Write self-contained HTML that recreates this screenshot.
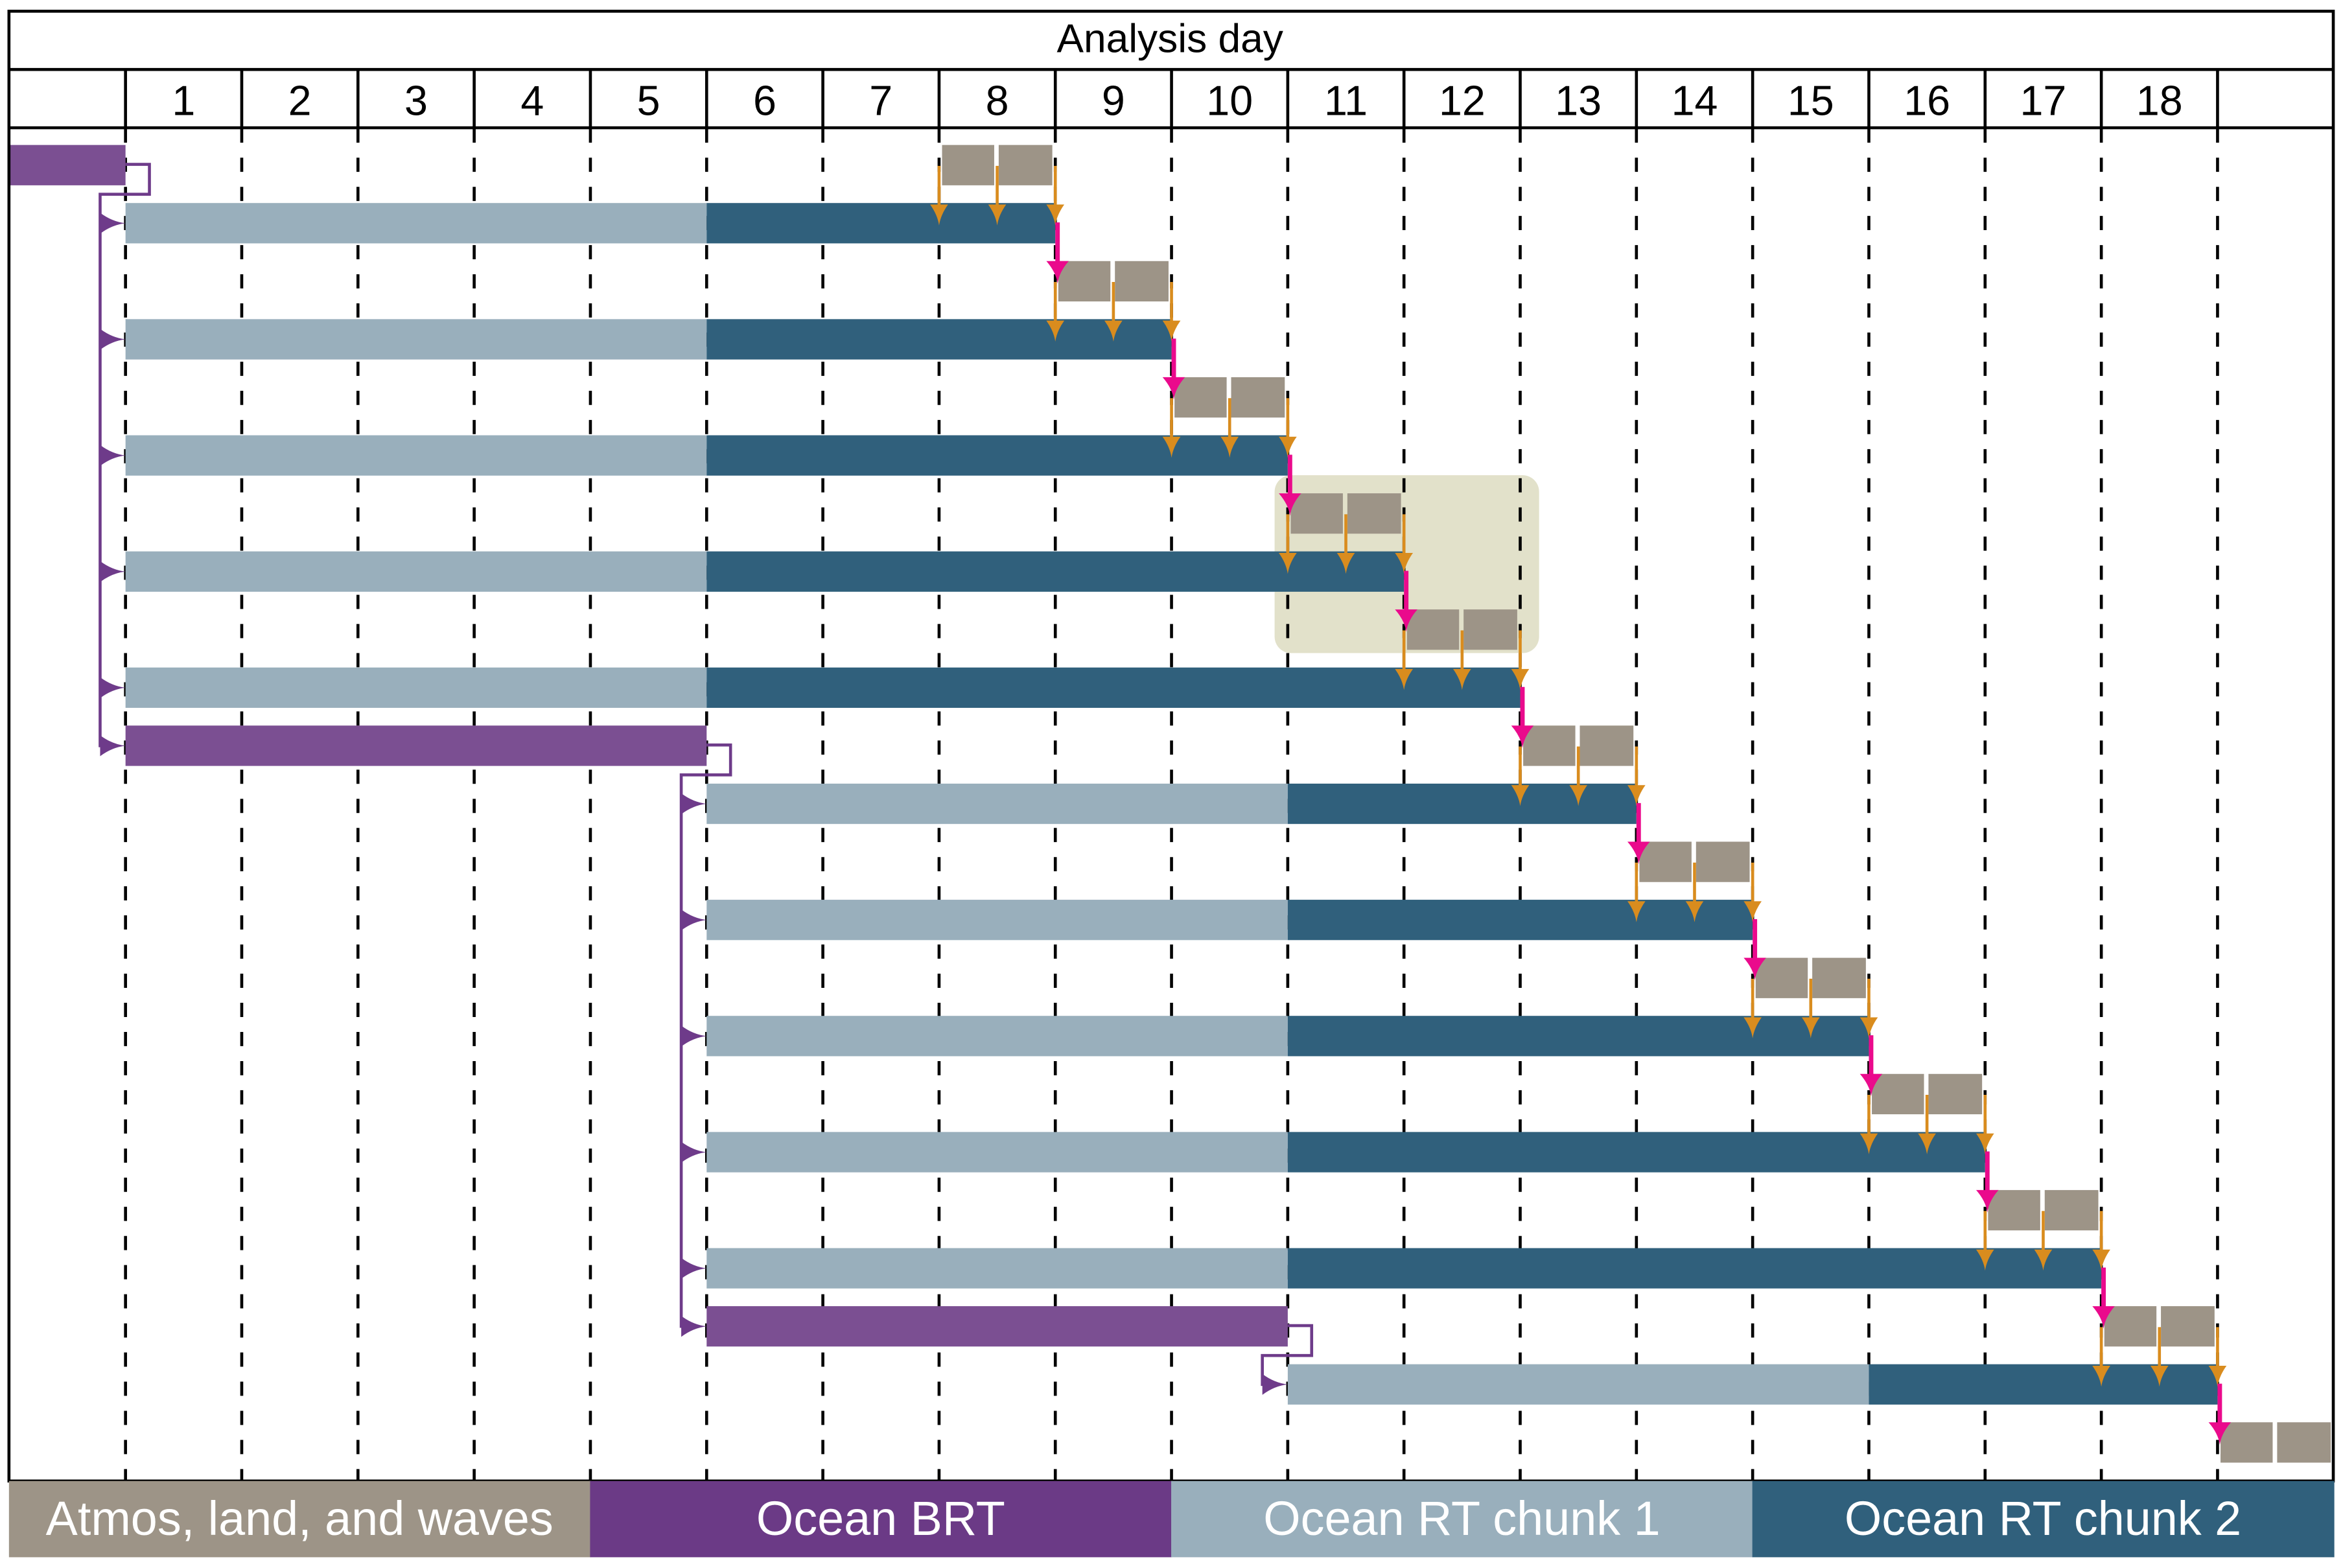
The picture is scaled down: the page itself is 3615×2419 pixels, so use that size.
<!DOCTYPE html>
<html><head><meta charset="utf-8"><style>
html,body{margin:0;padding:0;background:#fff;}
svg{display:block;}
text{font-family:"Liberation Sans",sans-serif;}
</style></head><body>
<svg id="chart" width="3615" height="2419" viewBox="0 0 1568 1049.2" preserveAspectRatio="none" xmlns="http://www.w3.org/2000/svg">
<g id="bg"></g>
<g id="grid"></g>
<g id="marks"></g>
<g id="header"></g>
<g id="legend"></g>
</svg>
<script>
// ---- data ----
const dayLabels = [1,2,3,4,5,6,7,8,9,10,11,12,13,14,15,16,17,18];
const purpleRows = [0,10,20];
const purpleStart = [-1,0,5];
const purpleEnd = [0,5,10];
const forecastRows = [1,3,5,7,9,11,13,15,17,19,21];
const forecastStart = [0,0,0,0,0,5,5,5,5,5,10];
const forecastSplit = [5,5,5,5,5,10,10,10,10,10,15];
const forecastEnd = [8,9,10,11,12,13,14,15,16,17,18];
const greyRows = [0,2,4,6,8,10,12,14,16,18,20,22];
const greyStart = [7,8,9,10,11,12,13,14,15,16,17,18];
const legendLabels = ["Atmos, land, and waves","Ocean BRT","Ocean RT chunk 1","Ocean RT chunk 2"];

// ---- scales ----
const X0 = 84, DW = 77.78;
const xs = d => d === -1 ? 6 : X0 + DW * d;
const Y0 = 97, RP = 38.85, BH = 27;
const ys = r => Y0 + RP * r;
const NS = "http://www.w3.org/2000/svg";
function mk(parent, tag, attrs){ const e=document.createElementNS(NS,tag); for(const k in attrs) e.setAttribute(k,attrs[k]); document.getElementById(parent).appendChild(e); return e; }

const C = {purple:"#7b4f92", pline:"#6e3b8a", light:"#99afbc", dark:"#30607c", grey:"#9d9487", orange:"#d98c1e", mag:"#ea0a8c", hl:"#e2e1ca"};

let el = mk("bg","rect",{x:853,y:318,width:177,height:119,rx:11,fill:C.hl});



for(let k=0;k<=18;k++){
  el = mk("grid","line",{x1:xs(k),x2:xs(k),y1:86,y2:991,stroke:"#000","stroke-width":2,"stroke-dasharray":"9.5 10"});
  
  
}

function arrowDown(x,y1,y2,color,w,hw,hl,name){
  el = mk("marks","line",{x1:x,x2:x,y1:y1,y2:y2-hl+2,stroke:color,"stroke-width":w});
  
  
  el = mk("marks","path",{d:`M${x-hw/2},${y2-hl} L${x+hw/2},${y2-hl} Q${x+1},${y2-hl/2} ${x},${y2} Q${x-1},${y2-hl/2} ${x-hw/2},${y2-hl} Z`,fill:color});
  
  
}
function arrowRight(x1,x2,y,name){
  el = mk("marks","path",{d:`M${x1},${y-7} Q${x1+8},${y-1} ${x2},${y} Q${x1+8},${y+1} ${x1},${y+7} Z`,fill:C.pline});
  
  
}

purpleRows.forEach((r,i)=>{
  el = mk("marks","rect",{x:xs(purpleStart[i]),y:ys(r),width:xs(purpleEnd[i])-xs(purpleStart[i]),height:BH,fill:C.purple});
  
  
});
for(let i=0;i<purpleRows.length;i++){
  const r=purpleRows[i], xe=xs(purpleEnd[i]);
  const ym=ys(r)+13, yb=ys(r)+33, xv=xe-17;
  const targets=[];
  forecastRows.forEach((fr,j)=>{ if(forecastStart[j]===purpleEnd[i]) targets.push(fr); });
  purpleRows.forEach((pr,j)=>{ if(purpleStart[j]===purpleEnd[i]) targets.push(pr); });
  if(!targets.length) continue;
  const ylast = ys(Math.max(...targets))+BH/2+1;
  el = mk("marks","path",{d:`M${xe},${ym} H${xe+16} V${yb} H${xv} V${ylast}`,fill:"none",stroke:C.pline,"stroke-width":2});
  
  
  targets.forEach(t=>arrowRight(xv,xe,ys(t)+BH/2,'restart-arrow'));
}

forecastRows.forEach((r,i)=>{
  el = mk("marks","rect",{x:xs(forecastStart[i]),y:ys(r),width:xs(forecastSplit[i])-xs(forecastStart[i]),height:BH,fill:C.light});
  
  
  el = mk("marks","rect",{x:xs(forecastSplit[i]),y:ys(r),width:xs(forecastEnd[i])-xs(forecastSplit[i]),height:BH,fill:C.dark});
  
  
});

greyRows.forEach((r,i)=>{
  const x=xs(greyStart[i]);
  el = mk("marks","rect",{x:x+2,y:ys(r),width:DW/2-4,height:BH,fill:C.grey});
  
  
  el = mk("marks","rect",{x:x+DW/2+1,y:ys(r),width:DW/2-3,height:BH,fill:C.grey});
  
  
});

greyRows.forEach((r,i)=>{
  if(!forecastRows.includes(r+1)) return;
  for(let h=0;h<3;h++){
    const x=xs(greyStart[i]+h*0.5);
    arrowDown(x,ys(r)+14,ys(r+1)+15,C.orange,2,12,14,'coupling-arrow');
  }
});
forecastRows.forEach((r,i)=>{
  if(!greyRows.includes(r+1)) return;
  const x=xs(forecastEnd[i])+1.5;
  arrowDown(x,ys(r)+13,ys(r+1)+15,C.mag,3,15,15,'handoff-arrow');
});

el = mk("header","rect",{x:6,y:7.5,width:1555.5,height:983.5,fill:"none",stroke:"#000","stroke-width":2});


el = mk("header","line",{x1:6,x2:1561.5,y1:46.5,y2:46.5,stroke:"#000","stroke-width":2});


el = mk("header","line",{x1:6,x2:1561.5,y1:85.5,y2:85.5,stroke:"#000","stroke-width":2});


el = mk("header","text",{x:783,y:35,"text-anchor":"middle","font-size":27,fill:"#000"});
el.textContent="Analysis day";


for(let k=0;k<=18;k++){
  el = mk("header","line",{x1:xs(k),x2:xs(k),y1:46.5,y2:85.5,stroke:"#000","stroke-width":2});
  
  
}
dayLabels.forEach((d,i)=>{
  el = mk("header","text",{x:xs(i)+DW/2,y:77,"text-anchor":"middle","font-size":28,fill:"#000"});
  el.textContent=d;
  
  
});

const legColors=[C.grey,"#6b3a86",C.light,C.dark];
legendLabels.forEach((t,i)=>{
  const x=6+i*388.9;
  el = mk("legend","rect",{x:x,y:991,width:389.5,height:51,fill:legColors[i]});
  
  
  el = mk("legend","text",{x:x+194.5,y:1027,"text-anchor":"middle","font-size":32,fill:"#fff"});
  el.textContent=t;
  
  
});
</script>
</body></html>
